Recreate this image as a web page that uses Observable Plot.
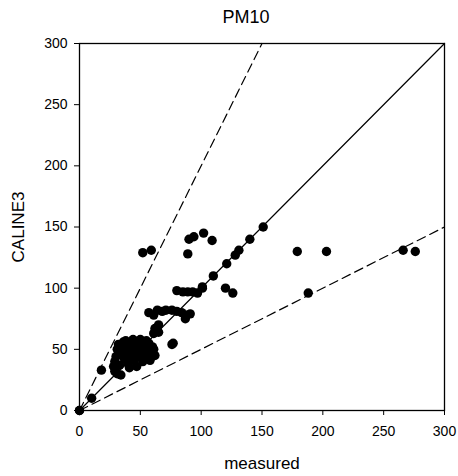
<!DOCTYPE html>
<html>
<head>
<meta charset="utf-8">
<script src="https://cdn.jsdelivr.net/npm/d3@7"></script>
<script src="https://cdn.jsdelivr.net/npm/@observablehq/plot@0.6"></script>
<style>
  html, body { margin: 0; padding: 0; background: #fff; }
  #wrap { position: relative; width: 458px; height: 476px; font-family: "Liberation Sans", Arial, sans-serif; }
  #title { position: absolute; left: 0; top: 7px; width: 458px; text-align: center; font-size: 18px; color: #000; padding-left: 34px; box-sizing: border-box; }
  #chart { position: absolute; left: 0; top: 0; }
</style>
</head>
<body>
<div id="wrap">
  <div id="chart"></div>
  <div id="title">PM10</div>
</div>
<script>
// measured values (x) and CALINE3 values (y)
const measured = [
  0, 0, 10, 18, 29, 31, 34,
  28, 29, 30, 31, 32, 33, 34, 35, 36, 37, 38, 39, 40, 41, 42, 43, 44, 45, 46, 47, 48, 49, 50,
  51, 52, 53, 54, 55, 56, 57, 58, 59, 60, 61, 62, 45, 38, 50, 55, 41,
  65, 62, 61, 76, 77,
  57, 61, 64, 68, 71, 76, 80, 84, 88, 91, 87, 65,
  80, 85, 89, 93, 97, 101,
  101, 110, 121, 128, 131, 140, 151,
  52, 59, 89, 90, 94, 102, 109,
  120, 126, 179, 203, 266, 276, 188
];
const caline3 = [
  0, 0, 10, 33, 32, 30, 29,
  36, 40, 44, 50, 54, 37, 46, 52, 56, 42, 48, 53, 38, 45, 50, 55, 58, 41, 47, 36, 52, 56, 44,
  49, 40, 54, 47, 51, 43, 55, 41, 48, 52, 50, 45, 55, 57, 58, 57, 35,
  64, 67, 63, 54, 55,
  80, 78, 82, 81, 82, 82, 81, 80, 78, 79, 75, 70,
  98, 97, 97, 97, 96, 100,
  101, 110, 120, 127, 131, 140, 150,
  129, 131, 128, 140, 142, 145, 139,
  100, 96, 130, 130, 131, 130, 96
];
// reference lines: ratio of CALINE3 to measured
const refRatios = [2, 1, 0.5];
const refDash = ["9,5", null, "9,5"];
const xTicks = [0, 50, 100, 150, 200, 250, 300];
const yTicks = [0, 50, 100, 150, 200, 250, 300];

const pts = measured.map((m, i) => ({m, c: caline3[i]}));
const maxV = 300;
const refLines = refRatios.map((r, i) => ({
  ratio: r,
  dash: refDash[i],
  pts: [{m: 0, c: 0}, {m: Math.min(maxV, maxV / r), c: Math.min(maxV, maxV * r)}]
}));

const chart = Plot.plot({
  width: 458,
  height: 476,
  marginLeft: 79,
  marginRight: 14,
  marginTop: 43,
  marginBottom: 66,
  style: {fontFamily: '"Liberation Sans", Arial, sans-serif', fontSize: "14px", color: "#000", background: "#fff"},
  x: {domain: [0, 300], ticks: xTicks, tickSize: 5, tickPadding: 11, label: "measured", labelAnchor: "center", labelArrow: "none", labelOffset: 58},
  y: {domain: [0, 300], ticks: yTicks, tickSize: 5, tickPadding: 7, label: "CALINE3", labelAnchor: "center", labelArrow: "none", labelOffset: 68},
  marks: [
    ...refLines.map(l => Plot.line(l.pts, {x: "m", y: "c", stroke: "#000", strokeWidth: 1.2, strokeDasharray: l.dash})),
    Plot.dot(pts, {x: "m", y: "c", r: 4.7, fill: "#000", stroke: "none"}),
    Plot.frame({stroke: "#000", strokeWidth: 1.3})
  ]
});
chart.querySelectorAll('[aria-label="x-axis label"] text, [aria-label="y-axis label"] text').forEach(t => t.setAttribute("font-size", "17px"));
document.getElementById("chart").appendChild(chart);
</script>
</body>
</html>
